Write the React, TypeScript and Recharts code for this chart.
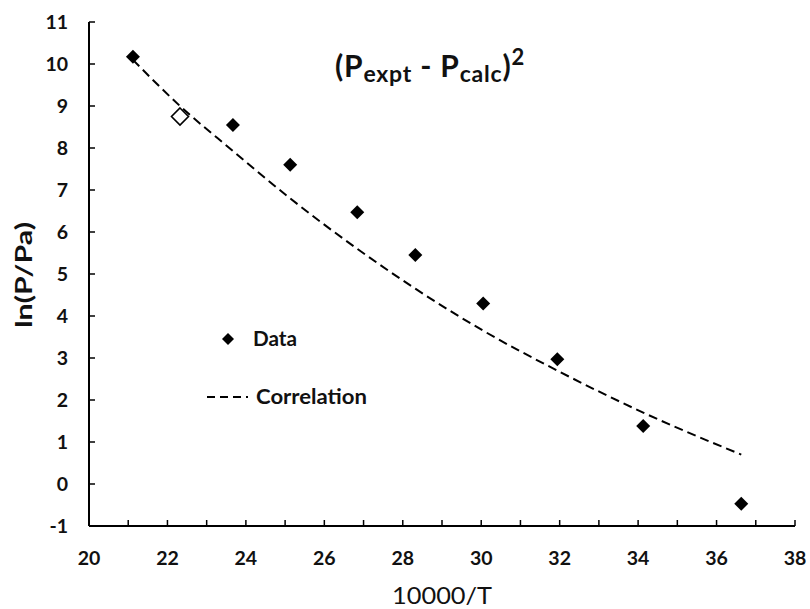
import { ComposedChart, Line, Scatter, XAxis, YAxis, Legend, Label } from "recharts";

// 10000/T values of the measured points
const dataX = [21.12, 23.67, 25.13, 26.84, 28.32, 30.05, 31.94, 34.13, 36.63];
// ln(P/Pa) of the measured points
const dataY = [10.17, 8.55, 7.6, 6.47, 5.45, 4.3, 2.97, 1.38, -0.47];

// the one hollow point (excluded from the fit)
const openX = [22.32];
const openY = [8.75];

// correlation curve, read at the same x positions
const corrX = [21.12, 22.32, 23.67, 25.13, 26.84, 28.32, 30.05, 31.94, 34.13, 36.63];
const corrY = [10.1, 9.0, 7.93, 6.8, 5.6, 4.65, 3.65, 2.7, 1.7, 0.7];

const xTicks = [20, 21, 22, 23, 24, 25, 26, 27, 28, 29, 30, 31, 32, 33, 34, 35, 36, 37, 38];
const yTicks = [-1, 0, 1, 2, 3, 4, 5, 6, 7, 8, 9, 10, 11];

const corrRows = corrX.map((x, i) => ({ x, corr: corrY[i] }));
const dataRows = dataX.map((x, i) => ({ x, y: dataY[i] }));
const openRows = openX.map((x, i) => ({ x, y: openY[i] }));

const FONT = "Lato, 'Open Sans', sans-serif";
const INK = "#111";

const diamondPoints = (cx: number, cy: number, r: number) =>
  `${cx},${cy - r} ${cx + r},${cy} ${cx},${cy + r} ${cx - r},${cy}`;

const FilledDiamond = (props: any) => {
  const { cx, cy } = props;
  return <polygon points={diamondPoints(cx, cy, 7)} fill="#000" />;
};

const OpenDiamond = (props: any) => {
  const { cx, cy } = props;
  return (
    <polygon
      points={diamondPoints(cx, cy, 8.5)}
      fill="#fff"
      stroke="#000"
      strokeWidth={1.6}
    />
  );
};

const XTick = (props: any) => {
  const { x, y, payload } = props;
  return (
    <g>
      <line x1={x} x2={x} y1={y} y2={y - 6} stroke="#000" strokeWidth={1.5} />
      {payload.value % 2 === 0 && (
        <text
          x={x}
          y={y + 39}
          textAnchor="middle"
          fontFamily={FONT}
          fontWeight={700}
          fontSize={19.5}
          fill={INK}
        >
          {payload.value}
        </text>
      )}
    </g>
  );
};

const YTick = (props: any) => {
  const { x, y, payload } = props;
  return (
    <g>
      <line x1={x} x2={x + 6} y1={y} y2={y} stroke="#000" strokeWidth={1.5} />
      <text
        x={x - 21}
        y={y + 7}
        textAnchor="end"
        fontFamily={FONT}
        fontWeight={700}
        fontSize={19.5}
        fill={INK}
      >
        {payload.value}
      </text>
    </g>
  );
};

const LegendBox = () => (
  <svg width={200} height={95}>
    <polygon points={diamondPoints(38, 19, 6)} fill="#000" />
    <text
      x={63}
      y={26}
      fontFamily={FONT}
      fontWeight={700}
      fontSize={20}
      fill={INK}
      textLength={44}
      lengthAdjust="spacingAndGlyphs"
    >
      Data
    </text>
    <line x1={17} x2={58} y1={77} y2={77} stroke="#000" strokeWidth={2} strokeDasharray="8 5" />
    <text
      x={66}
      y={84}
      fontFamily={FONT}
      fontWeight={700}
      fontSize={20}
      fill={INK}
      textLength={111}
      lengthAdjust="spacingAndGlyphs"
    >
      Correlation
    </text>
  </svg>
);

export default function App() {
  return (
    <div style={{ position: "absolute", left: 0, top: 0, width: 810, height: 609, background: "#fff" }}>
      <ComposedChart
        width={810}
        height={609}
        data={corrRows}
        margin={{ top: 22, right: 15, bottom: 0, left: 0 }}
      >
        <XAxis
          type="number"
          dataKey="x"
          domain={[20, 38]}
          ticks={xTicks}
          interval={0}
          height={83}
          tickSize={0}
          tickMargin={0}
          tickLine={false}
          tick={<XTick />}
          axisLine={{ stroke: "#000", strokeWidth: 2 }}
        >
          <Label
            content={() => (
              <text
                x={442}
                y={604}
                textAnchor="middle"
                fontFamily={FONT}
                fontSize={24}
                fill={INK}
                textLength={100}
                lengthAdjust="spacingAndGlyphs"
              >
                10000/T
              </text>
            )}
          />
        </XAxis>
        <YAxis
          type="number"
          domain={[-1, 11]}
          ticks={yTicks}
          interval={0}
          width={89}
          tickSize={0}
          tickMargin={0}
          tickLine={false}
          tick={<YTick />}
          axisLine={{ stroke: "#000", strokeWidth: 2 }}
        >
          <Label
            content={() => (
              <text
                transform="translate(32,275) rotate(-90)"
                textAnchor="middle"
                fontFamily={FONT}
                fontWeight={700}
                fontSize={23}
                fill={INK}
                textLength={106}
                lengthAdjust="spacingAndGlyphs"
              >
                ln(P/Pa)
              </text>
            )}
          />
        </YAxis>
        <Line
          type="monotone"
          dataKey="corr"
          stroke="#000"
          strokeWidth={2}
          strokeDasharray="9 5"
          dot={false}
          isAnimationActive={false}
        />
        <Scatter data={dataRows} dataKey="y" shape={<FilledDiamond />} isAnimationActive={false} />
        <Scatter data={openRows} dataKey="y" shape={<OpenDiamond />} isAnimationActive={false} />
        <Legend
          layout="vertical"
          align="center"
          verticalAlign="middle"
          wrapperStyle={{ left: 190, top: 320, width: 200, height: 95 }}
          content={() => <LegendBox />}
        />
      </ComposedChart>
      <div
        style={{
          position: "absolute",
          left: 335,
          top: 42,
          fontFamily: FONT,
          fontWeight: 700,
          fontSize: 30,
          lineHeight: "30px",
          letterSpacing: 0.8,
          color: INK,
          whiteSpace: "nowrap",
        }}
      >
        (P<sub style={{ fontSize: 23, verticalAlign: "-5px" }}>expt</sub> - P
        <sub style={{ fontSize: 23, verticalAlign: "-5px" }}>calc</sub>)
        <sup style={{ fontSize: 22, verticalAlign: "12px" }}>2</sup>
      </div>
    </div>
  );
}
